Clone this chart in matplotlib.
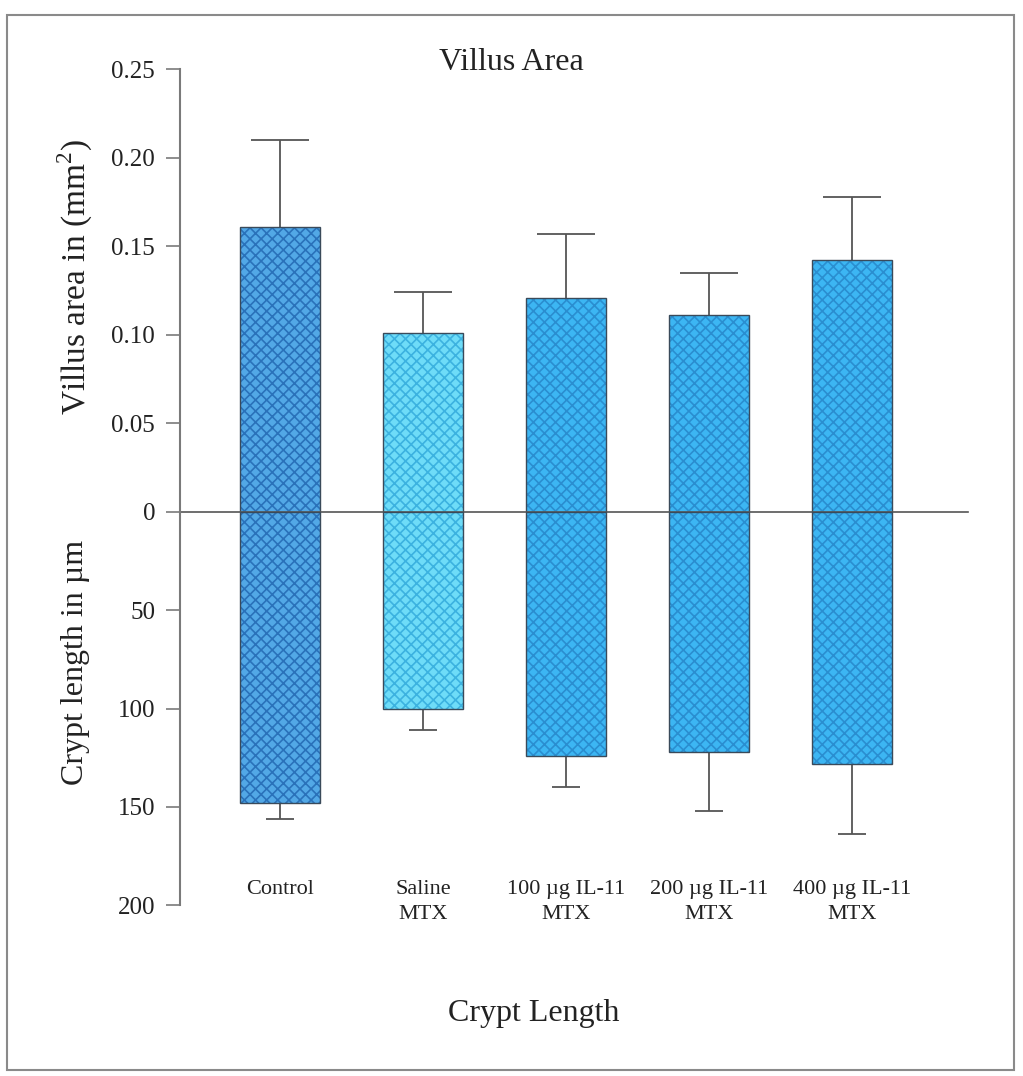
import numpy as np
import matplotlib
matplotlib.use("Agg")
import matplotlib.pyplot as plt
from matplotlib.patches import Rectangle

plt.rcParams['font.family'] = ['Liberation Serif', 'DejaVu Serif']
plt.rcParams['mathtext.fontset'] = 'custom'
plt.rcParams['mathtext.rm'] = 'Liberation Serif'
plt.rcParams['hatch.linewidth'] = 1.2

# Group data
groups = ["Control", "Saline\nMTX", "100 \u00b5g IL-11\nMTX", "200 \u00b5g IL-11\nMTX", "400 \u00b5g IL-11\nMTX"]
villus_area = [0.161, 0.101, 0.121, 0.111, 0.142]      # mm^2
villus_err = [0.049, 0.023, 0.036, 0.024, 0.036]
crypt_length = [148, 100, 124, 122, 128]               # um
crypt_err = [8, 11, 16, 30, 36]
villus_ticks = [0, 0.05, 0.10, 0.15, 0.20, 0.25]
villus_ticklabels = ["0", "0.05", "0.10", "0.15", "0.20", "0.25"]
crypt_ticks = [50, 100, 150, 200]

face_colors = ["#52a8e6", "#6edcf8", "#3cb6f3", "#3cb6f3", "#3cb6f3"]
hatch_colors = ["#2a72ba", "#3cb2e0", "#2a8ed0", "#2a8ed0", "#2a8ed0"]

W, H = 1023, 1076
fig = plt.figure(figsize=(W / 100, H / 100), dpi=100)

# axes are placed in pixel units of the figure
def px_axes(left, top, right, bottom):
    return fig.add_axes([left / W, 1 - bottom / H, (right - left) / W, (bottom - top) / H])

ax_top = px_axes(180, 69, 968, 512)
ax_bot = px_axes(180, 512, 968, 905)

x = np.arange(len(groups))
bar_w = 0.56
xlim = (-0.70, 4.81)
axis_gray = "#7a7a7a"
text_col = "#222222"

for ax in (ax_top, ax_bot):
    ax.set_xlim(*xlim)
    for s in ["top", "right", "bottom"]:
        ax.spines[s].set_visible(False)
    ax.spines["left"].set_color(axis_gray)
    ax.spines["left"].set_linewidth(1.5)
    ax.tick_params(axis="y", direction="out", length=10, width=1.2, color=axis_gray,
                   pad=8, labelsize=18, labelcolor=text_col)
    ax.set_xticks([])
    ax.patch.set_alpha(0)


def draw_bars(ax, values, errs, capsize):
    for i in range(len(values)):
        ax.bar(x[i], values[i], width=bar_w, color=face_colors[i],
               edgecolor=hatch_colors[i], hatch="xxx", linewidth=0, zorder=2)
        ax.bar(x[i], values[i], width=bar_w, facecolor="none",
               edgecolor="#3a4a5a", linewidth=1.0, zorder=3)
    # one-sided error bars: hide the cap on the bar end
    _, caps, _ = ax.errorbar(x, values, yerr=[np.zeros(len(values)), errs], fmt="none",
                             ecolor="#555555", elinewidth=1.3, capsize=capsize,
                             capthick=1.3, zorder=1)
    caps[0].set_visible(False)


# Villus area (upward)
ax_top.set_ylim(0, 0.25)
ax_top.set_yticks(villus_ticks)
ax_top.set_yticklabels(villus_ticklabels)
draw_bars(ax_top, villus_area, villus_err, 21)

# Crypt length (downward)
ax_bot.set_ylim(200, 0)
ax_bot.set_yticks(crypt_ticks)
draw_bars(ax_bot, crypt_length, crypt_err, 10)

# zero line across the bars
ax_top.axhline(0, color="#555555", linewidth=1.2, clip_on=False, zorder=4)

# group labels under the bars
for i, g in enumerate(groups):
    ax_bot.text(x[i], 187.5, g, ha="center", va="top", fontsize=16,
                color=text_col, linespacing=1.4, clip_on=False)

fig.text(511 / W, 1 - 62 / H, "Villus Area", ha="center", va="center",
         fontsize=23, color=text_col)
fig.text(534 / W, 1 - 1013 / H, "Crypt Length", ha="center", va="center",
         fontsize=23, color=text_col)
fig.text(75 / W, 1 - 277 / H, "Villus area in (mm$^{2}$)", ha="center", va="center",
         rotation=90, fontsize=24, color=text_col)
fig.text(75 / W, 1 - 662 / H, "Crypt length in \u00b5m", ha="center", va="center",
         rotation=90, fontsize=23, color=text_col)

# outer frame
fig.patches.append(Rectangle((7 / W, 1 - 1070 / H), (1014 - 7) / W, (1070 - 15) / H,
                             transform=fig.transFigure, fill=False,
                             edgecolor="#8a8a8a", linewidth=1.5))

fig.savefig("out.png", dpi=100)
